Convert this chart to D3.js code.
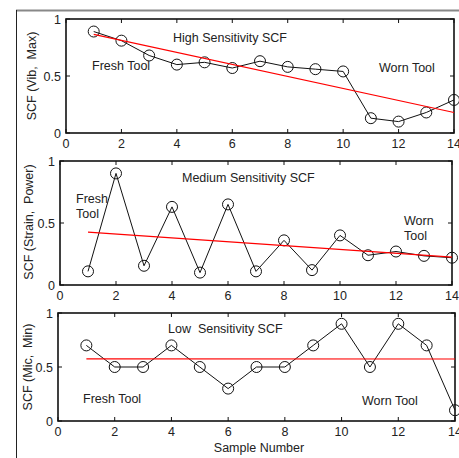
<!DOCTYPE html>
<html><head><meta charset="utf-8">
<script src="https://cdn.jsdelivr.net/npm/d3@7"></script>
<style>
html,body{margin:0;padding:0;background:#fff;overflow:hidden;}
text{font-family:"Liberation Sans",Arial,sans-serif;fill:#222;white-space:pre;}
</style></head>
<body><svg id="c" width="459" height="458"></svg>
<script>
const samples = [1,2,3,4,5,6,7,8,9,10,11,12,13,14];
const highSCF = [0.89,0.81,0.68,0.60,0.62,0.57,0.63,0.58,0.56,0.54,0.13,0.10,0.18,0.29];
const mediumSCF = [0.11,0.90,0.155,0.63,0.10,0.65,0.11,0.36,0.12,0.40,0.24,0.27,0.235,0.22];
const lowSCF = [0.70,0.50,0.50,0.70,0.50,0.30,0.50,0.50,0.70,0.90,0.50,0.90,0.70,0.10];
const highTrend = [0.865, 0.18];
const mediumTrend = [0.426, 0.225];
const lowTrend = [0.576, 0.574];
const xTicks = [0,2,4,6,8,10,12,14];
const yTicks = [0,0.5,1];
const yTickLabels = ["0","0.5","1"];
const titles = ["High Sensitivity SCF","Medium Sensitivity SCF","Low  Sensitivity SCF"];
const yLabels = ["SCF (Vib,  Max)","SCF (Strain,  Power)","SCF (Mic,  Min)"];
const xLabel = "Sample Number";

const svg = d3.select("#c");
// outer frame
svg.append("line").attr("x1",16).attr("x2",459).attr("y1",10.5).attr("y2",10.5).attr("stroke","#888").attr("stroke-width",2);
svg.append("line").attr("x1",16.5).attr("x2",16.5).attr("y1",10).attr("y2",458).attr("stroke","#222").attr("stroke-width",1);

const panels = [
  {data:highSCF, trend:highTrend, x0:66, x1:454, y0:133, y1:19,
   title:[173,42], notes:[{t:["Fresh Tool"],x:92,y:70},{t:["Worn Tool"],x:379,y:72}], ylab:[36,76]},
  {data:mediumSCF, trend:mediumTrend, x0:60, x1:452, y0:285, y1:161,
   title:[182,182], notes:[{t:["Fresh","Tool"],x:76,y:203},{t:["Worn","Tool"],x:404,y:225}], ylab:[32.5,222]},
  {data:lowSCF, trend:lowTrend, x0:58, x1:455, y0:421, y1:313,
   title:[168,333], notes:[{t:["Fresh Tool"],x:83,y:403},{t:["Worn Tool"],x:362,y:405}], ylab:[32,367]}
];
const fs = 12.5;

panels.forEach((p,i)=>{
  const x = d3.scaleLinear().domain([0,14]).range([p.x0,p.x1]);
  const y = d3.scaleLinear().domain([0,1]).range([p.y0,p.y1]);
  const g = svg.append("g");
  g.append("rect").attr("x",p.x0).attr("y",p.y1).attr("width",p.x1-p.x0).attr("height",p.y0-p.y1)
    .attr("fill","none").attr("stroke","#111").attr("stroke-width",1.6);
  const tl = 4;
  xTicks.forEach(t=>{
    g.append("line").attr("x1",x(t)).attr("x2",x(t)).attr("y1",p.y0).attr("y2",p.y0-tl).attr("stroke","#111");
    g.append("line").attr("x1",x(t)).attr("x2",x(t)).attr("y1",p.y1).attr("y2",p.y1+tl).attr("stroke","#111");
    g.append("text").attr("x",x(t)).attr("y",p.y0+15).attr("text-anchor","middle").attr("font-size",fs).text(t);
  });
  yTicks.forEach((t,j)=>{
    g.append("line").attr("x1",p.x0).attr("x2",p.x0+tl).attr("y1",y(t)).attr("y2",y(t)).attr("stroke","#111");
    g.append("line").attr("x1",p.x1).attr("x2",p.x1-tl).attr("y1",y(t)).attr("y2",y(t)).attr("stroke","#111");
    g.append("text").attr("x",p.x0-5).attr("y",y(t)+4.5).attr("text-anchor","end").attr("font-size",fs).text(yTickLabels[j]);
  });
  const line = d3.line().x((d,k)=>x(samples[k])).y(d=>y(d));
  g.append("path").attr("d",line(p.data)).attr("fill","none").attr("stroke","#111").attr("stroke-width",1);
  g.selectAll("circle").data(p.data).join("circle")
    .attr("cx",(d,k)=>x(samples[k])).attr("cy",d=>y(d)).attr("r",5.5)
    .attr("fill","none").attr("stroke","#111").attr("stroke-width",1);
  g.append("line").attr("x1",x(samples[0])).attr("x2",x(samples[samples.length-1]))
    .attr("y1",y(p.trend[0])).attr("y2",y(p.trend[1])).attr("stroke","#f00").attr("stroke-width",1.2);
  g.append("text").attr("x",p.title[0]).attr("y",p.title[1]).attr("font-size",fs).text(titles[i]);
  p.notes.forEach(n=>{
    n.t.forEach((s,k)=>{
      g.append("text").attr("x",n.x).attr("y",n.y+k*15).attr("font-size",fs).text(s);
    });
  });
  g.append("text").attr("transform",`translate(${p.ylab[0]},${p.ylab[1]}) rotate(-90)`)
    .attr("text-anchor","middle").attr("font-size",fs).text(yLabels[i]);
});
svg.append("text").attr("x",259).attr("y",452).attr("text-anchor","middle").attr("font-size",fs).text(xLabel);
</script></body></html>
